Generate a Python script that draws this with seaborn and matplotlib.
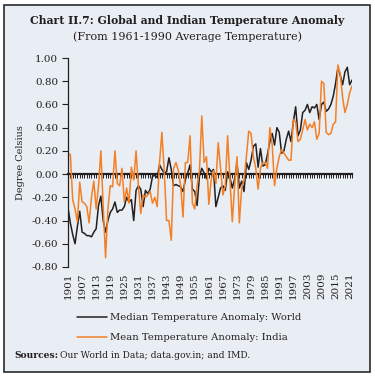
import pandas as pd
import seaborn as sns
import matplotlib.pyplot as plt
from matplotlib.patches import Rectangle

# data (anomaly vs 1961-1990 average, deg C)
years = list(range(1901, 2023))
world = [
    -0.29, -0.42, -0.52, -0.60, -0.45, -0.32, -0.50, -0.51, -0.53, -0.53,
    -0.54, -0.50, -0.47, -0.27, -0.19, -0.40, -0.50, -0.40, -0.33, -0.30,
    -0.24, -0.33, -0.31, -0.31, -0.28, -0.20, -0.24, -0.22, -0.40, -0.14,
    -0.10, -0.13, -0.28, -0.14, -0.17, -0.13, -0.02, -0.01, -0.03, 0.08,
    0.04, 0.01, 0.02, 0.14, 0.04, -0.10, -0.09, -0.10, -0.11, -0.15,
    -0.05, 0.01, 0.08, -0.13, -0.15, -0.27, -0.02, 0.05, 0.01, -0.04,
    0.05, 0.02, 0.04, -0.28, -0.20, -0.12, -0.10, -0.14, 0.02, -0.03,
    -0.12, -0.04, 0.10, -0.12, -0.06, -0.15, 0.10, 0.04, 0.12, 0.24,
    0.26, 0.06, 0.22, 0.07, 0.08, 0.17, 0.28, 0.35, 0.25, 0.40,
    0.36, 0.18, 0.20, 0.30, 0.37, 0.28, 0.45, 0.58, 0.33, 0.38,
    0.53, 0.55, 0.60, 0.53, 0.58, 0.57, 0.60, 0.47, 0.60, 0.62,
    0.54, 0.56, 0.60, 0.67, 0.78, 0.92, 0.85, 0.77, 0.88, 0.92,
    0.77, 0.81,
]
india = [
    0.17, 0.17, -0.22, -0.30, -0.41, -0.07, -0.24, -0.25, -0.28, -0.42,
    -0.20, -0.06, -0.30, -0.10, 0.20, -0.28, -0.72, -0.30, -0.10, -0.11,
    0.20, -0.08, -0.10, 0.05, -0.24, -0.12, -0.25, 0.06, -0.05, 0.20,
    -0.10, -0.34, -0.18, -0.20, -0.18, -0.15, -0.25, -0.20, -0.28, 0.10,
    0.36, 0.03, -0.40, -0.40, -0.57, 0.05, 0.10, 0.03, -0.10, -0.37,
    0.10, 0.10, 0.33, -0.25, -0.30, -0.10, 0.03, 0.50, 0.10, 0.15,
    -0.26, -0.05, 0.03, -0.08, 0.27, 0.05, -0.18, -0.10, 0.33, -0.05,
    -0.41, -0.10, 0.15, -0.42, -0.12, -0.05, 0.15, 0.37, 0.35, 0.15,
    0.05, -0.13, 0.05, 0.10, 0.10, 0.05, 0.40, 0.25, -0.10, 0.05,
    0.15, 0.21, 0.18, 0.15, 0.12, 0.12, 0.47, 0.45, 0.28, 0.30,
    0.38, 0.47, 0.38, 0.43, 0.40, 0.45, 0.30, 0.35, 0.80, 0.78,
    0.36, 0.34, 0.35, 0.43, 0.45, 0.94, 0.86, 0.66, 0.53, 0.60,
    0.70, 0.76,
]
series_names = ["Median Temperature Anomaly: World", "Mean Temperature Anomaly: India"]
tick_years = list(range(1901, 2022, 6))
y_ticks = [-0.8, -0.6, -0.4, -0.2, 0.0, 0.2, 0.4, 0.6, 0.8, 1.0]

sns.set_style("ticks")
plt.rcParams['font.family'] = ['DejaVu Serif']
text_col = "#231F20"

df = pd.DataFrame({"Year": years, series_names[0]: world, series_names[1]: india})
long = df.melt(id_vars="Year", var_name="Series", value_name="Anomaly")

fig = plt.figure(figsize=(3.75, 3.77), dpi=100)
fig.patch.set_facecolor("white")
# panel background with dark border, behind everything
fig.patches.append(Rectangle((3.5 / 375, 1 - 372 / 377), 366.5 / 375, 367.5 / 377,
                             transform=fig.transFigure, facecolor="#E9EEF4",
                             edgecolor="#2a2a2a", linewidth=1.2, zorder=-10))

ax = fig.add_axes([68 / 375, 1 - 267 / 377, 284 / 375, 209 / 377])
ax.set_facecolor("none")
sns.lineplot(data=long, x="Year", y="Anomaly", hue="Series",
             palette={series_names[0]: "#231F20", series_names[1]: "#F47F24"},
             linewidth=1.1, ax=ax, legend=False)

ax.set_xlim(1901, 2022)
ax.set_ylim(-0.8, 1.0)
ax.set_yticks(y_ticks)
ax.set_yticklabels([f"{v:.2f}" for v in y_ticks], fontsize=7.5, color=text_col)
ax.set_xticks(tick_years)
ax.set_xticklabels(tick_years, rotation=90, fontsize=7.5, color=text_col)
ax.tick_params(axis="x", length=0, pad=4)
ax.tick_params(axis="y", direction="out", length=4, width=0.8, color=text_col, pad=3)
for s in ["top", "right", "bottom"]:
    ax.spines[s].set_visible(False)
ax.spines["left"].set_color(text_col)
ax.spines["left"].set_linewidth(0.9)
ax.set_xlabel("")
ax.set_ylabel("")

# zero line with yearly ticks
zero = ax.secondary_xaxis(0.8 / 1.8)
zero.set_xticks(years)
zero.tick_params(axis="x", direction="out", length=3, width=0.7, color=text_col, labelbottom=False)
zero.spines["bottom"].set_linewidth(1.6)
zero.spines["bottom"].set_color(text_col)

fig.text(21 / 375, 1 - 162.5 / 377, "Degree Celsius", rotation=90, ha="center", va="center",
         fontsize=7, color=text_col)

fig.text(0.5, 1 - 20.7 / 377, "Chart II.7: Global and Indian Temperature Anomaly",
         ha="center", va="center", fontsize=7.8, fontweight="bold", color=text_col)
fig.text(0.5, 1 - 36.7 / 377, "(From 1961-1990 Average Temperature)",
         ha="center", va="center", fontsize=8.0, color=text_col)

lines = ax.get_lines()[:2]
ax.legend(lines, series_names, loc="upper center", bbox_to_anchor=(0.503, 1 - 309 / 377),
          bbox_transform=fig.transFigure, frameon=False, handlelength=3.0,
          handletextpad=0.3, labelspacing=1.1, fontsize=7.2, borderaxespad=0,
          labelcolor=text_col)

fig.text(14 / 375, 1 - 355.7 / 377, "Sources:", ha="left", va="center",
         fontsize=6.6, fontweight="bold", color=text_col)
fig.text(60 / 375, 1 - 355.7 / 377, "Our World in Data; data.gov.in; and IMD.",
         ha="left", va="center", fontsize=6.6, color=text_col)

fig.savefig("out.png", dpi=100)
